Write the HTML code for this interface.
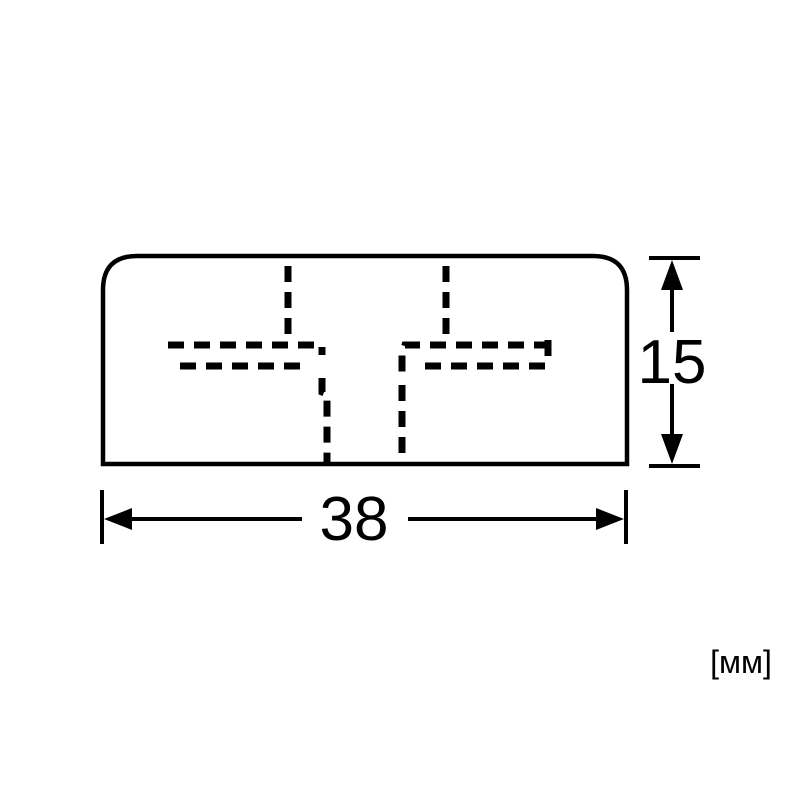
<!DOCTYPE html>
<html><head><style>html,body{margin:0;padding:0;background:#fff;}</style></head>
<body>
<svg width="800" height="800" viewBox="0 0 800 800" xmlns="http://www.w3.org/2000/svg">
<rect width="800" height="800" fill="#fff"/>
<path d="M103 464 L103 290 Q103 256 137 256 L593 256 Q627 256 627 290 L627 464 Z" fill="none" stroke="#000" stroke-width="4.5"/>
<g fill="none" stroke="#000" stroke-width="7" stroke-dasharray="16,10">
<path d="M288 266 L288 338"/>
<path d="M168 345 L322 345 L322 355"/>
<path d="M180 366 L310 366"/>
<path d="M322 378 L322 392 L327 394 L327 464"/>
<path d="M446 266 L446 338"/>
<path d="M550 345 L405 345 L402 355 L402 375"/>
<path d="M545 366 L415 366"/>
<path d="M548 340 L548 366"/>
<path d="M402 385 L402 464"/>
</g>
<g stroke="#000" stroke-width="4">
<line x1="649" y1="258" x2="700" y2="258"/>
<line x1="649" y1="466" x2="700" y2="466"/>
<line x1="672" y1="280" x2="672" y2="332"/>
<line x1="672" y1="384" x2="672" y2="444"/>
<line x1="102" y1="490" x2="102" y2="544"/>
<line x1="626" y1="490" x2="626" y2="544"/>
<line x1="125" y1="519" x2="302" y2="519"/>
<line x1="408" y1="519" x2="604" y2="519"/>
</g>
<polygon points="672,260 661,290 683,290" fill="#000"/>
<polygon points="672,464 661,434 683,434" fill="#000"/>
<polygon points="104,519 132,508 132,530" fill="#000"/>
<polygon points="624,519 596,508 596,530" fill="#000"/>
<text x="672" y="383" font-family="Liberation Sans, sans-serif" font-size="62" text-anchor="middle">15</text>
<text x="354" y="540" font-family="Liberation Sans, sans-serif" font-size="62" text-anchor="middle">38</text>
<text x="741" y="673" font-family="Liberation Sans, sans-serif" font-size="32" text-anchor="middle">[мм]</text>
</svg>
</body></html>
